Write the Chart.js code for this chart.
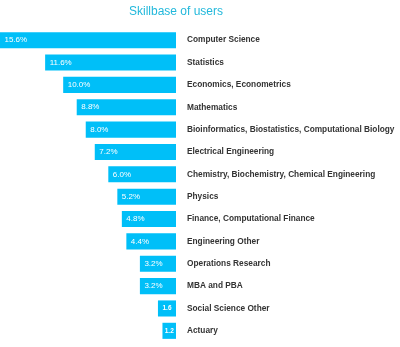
<!DOCTYPE html>
<html>
<head>
<meta charset="utf-8">
<script src="https://cdn.jsdelivr.net/npm/chart.js@4"></script>
<style>
  html, body { margin: 0; padding: 0; background: #fff; overflow: hidden; }
  canvas { display: block; }
</style>
</head>
<body>
<canvas id="c" width="400" height="347" style="width:400px;height:347px"></canvas>
<script>
const categories = [
  "Computer Science",
  "Statistics",
  "Economics, Econometrics",
  "Mathematics",
  "Bioinformatics, Biostatistics, Computational Biology",
  "Electrical Engineering",
  "Chemistry, Biochemistry, Chemical Engineering",
  "Physics",
  "Finance, Computational Finance",
  "Engineering Other",
  "Operations Research",
  "MBA and PBA",
  "Social Science Other",
  "Actuary"
];
const shares = [15.6, 11.6, 10.0, 8.8, 8.0, 7.2, 6.0, 5.2, 4.8, 4.4, 3.2, 3.2, 1.6, 1.2];
const valueLabels = ["15.6%", "11.6%", "10.0%", "8.8%", "8.0%", "7.2%", "6.0%", "5.2%", "4.8%", "4.4%", "3.2%", "3.2%", "1.6", "1.2"];
const chartTitle = "Skillbase of users";

const BAR = "#00bff8";

const titlePlugin = {
  id: 'centerTitle',
  afterDraw(chart) {
    const ctx = chart.ctx;
    ctx.save();
    ctx.font = '300 12px "Liberation Sans", Arial, sans-serif';
    ctx.fillStyle = '#22b8db';
    ctx.textAlign = 'center';
    ctx.textBaseline = 'middle';
    ctx.fillText(chartTitle, chart.chartArea.right, 12);
    ctx.restore();
  }
};

const valuePlugin = {
  id: 'valueLabels',
  afterDatasetsDraw(chart) {
    const ctx = chart.ctx;
    const meta = chart.getDatasetMeta(0);
    ctx.save();
    ctx.fillStyle = '#ffffff';
    ctx.textAlign = 'left';
    ctx.textBaseline = 'middle';
    meta.data.forEach((bar, i) => {
      const left = Math.min(bar.x, bar.base);
      const w = Math.abs(bar.base - bar.x);
      let size = 8;
      let weight = 'normal';
      ctx.font = `${weight} ${size}px "Liberation Sans", Arial, sans-serif`;
      if (ctx.measureText(valueLabels[i]).width + 8 > w) {
        weight = 'bold';
        size = 6.5;
        ctx.font = `${weight} ${size}px "Liberation Sans", Arial, sans-serif`;
        const tw = ctx.measureText(valueLabels[i]).width;
        ctx.fillText(valueLabels[i], left + Math.max(1, (w - tw) / 2), bar.y);
      } else {
        ctx.fillText(valueLabels[i], left + 4.5, bar.y);
      }
    });
    ctx.restore();
  }
};

new Chart(document.getElementById('c'), {
  type: 'bar',
  data: {
    labels: categories,
    datasets: [{
      data: shares,
      backgroundColor: BAR,
      borderWidth: 0,
      categoryPercentage: 1,
      barPercentage: 0.72
    }]
  },
  options: {
    indexAxis: 'y',
    responsive: false,
    animation: false,
    layout: { padding: { top: 29, bottom: 5, left: 0, right: 0 } },
    plugins: {
      legend: { display: false },
      tooltip: { enabled: false },
      title: { display: false }
    },
    scales: {
      x: {
        reverse: true,
        min: 0,
        max: 15.6,
        display: false
      },
      y: {
        position: 'right',
        grid: { display: false, drawTicks: false },
        border: { display: false },
        ticks: {
          color: '#333333',
          padding: 11,
          autoSkip: false,
          font: { family: '"Liberation Sans", Arial, sans-serif', size: 8.3, weight: 'bold' }
        },
        afterFit(scale) {
          scale.width = 224;
          scale.paddingTop = 0;
          scale.paddingBottom = 0;
        }
      }
    }
  },
  plugins: [titlePlugin, valuePlugin]
});
</script>
</body>
</html>
